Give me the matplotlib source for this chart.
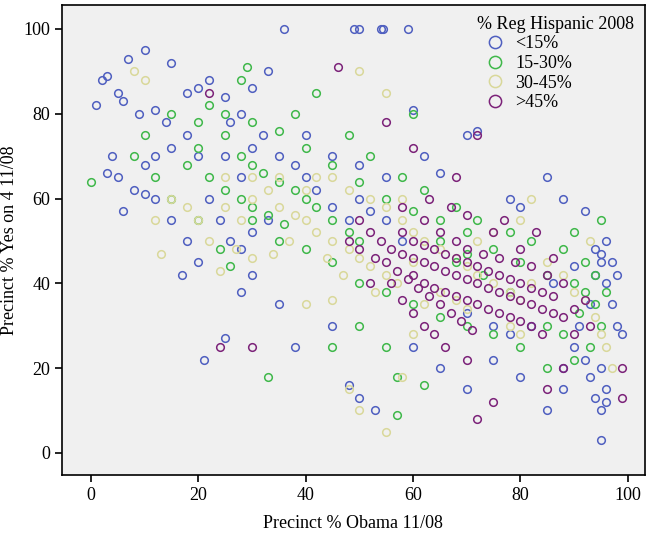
import matplotlib
matplotlib.use("Agg")
import matplotlib.pyplot as plt

labels = ["<15%", "15-30%", "30-45%", ">45%"]
colors = ["#4f5fc0", "#3fb84a", "#d9d89a", "#7c2279"]

blue = [(36,100),(49,100),(50,100),(54,100),(54.5,100),(59,100),(10,95),(7,93),(15,92),(2,88),(3,89),(5,85),(6,83),(1,82),(9,80),(12,81),(14,78),(18,85),(20,86),(22,88),(25,84),(30,86),(33,90),(4,70),(5,65),(3,66),(6,57),(8,62),(10,61),(12,60),(15,55),(18,50),(20,45),(17,42),(21,22),(25,27),(28,38),(30,42),(35,35),(38,25),(45,30),(50,13),(53,10),(48,16),(60,81),(62,70),(65,66),(70,75),(72,76),(78,60),(80,58),(85,65),(88,60),(92,57),(94,48),(95,45),(96,40),(97,35),(98,30),(99,28),(95,20),(96,15),(94,13),(95,10),(95,3),(88,15),(85,10),(80,18),(75,22),(70,15),(65,20),(60,25),(92,22),(91,30),(93,35),(94,42),(95,47),(96,50),(90,44),(86,40),(82,30),(78,28),(75,30),(70,33),(25,70),(28,65),(30,72),(32,75),(35,70),(38,68),(40,65),(42,62),(45,58),(48,55),(50,60),(52,57),(55,55),(58,50),(22,60),(24,55),(26,50),(28,48),(30,52),(33,55),(20,70),(18,75),(15,72),(12,70),(10,68),(26,78),(28,80),(40,75),(45,70),(50,68),(55,65),(88,20),(90,25),(93,18),(96,12),(97,45),(98,42)]
green = [(0,64),(10,75),(15,80),(20,78),(22,82),(25,75),(28,70),(30,68),(32,66),(35,64),(38,62),(40,60),(42,58),(45,55),(48,52),(50,50),(22,65),(25,62),(28,60),(30,58),(33,56),(36,54),(18,68),(20,72),(25,80),(30,78),(35,76),(40,72),(45,68),(50,64),(55,60),(60,57),(65,55),(70,52),(75,48),(80,45),(85,42),(90,40),(92,38),(94,35),(95,30),(93,25),(90,22),(85,20),(80,25),(75,28),(70,30),(65,32),(60,35),(55,38),(50,40),(45,45),(40,48),(35,50),(30,55),(33,18),(45,25),(50,30),(55,25),(57,18),(62,16),(57,9),(28,88),(29,91),(38,80),(42,85),(48,75),(52,70),(58,65),(62,62),(68,58),(72,55),(78,52),(82,50),(88,48),(92,45),(94,42),(96,38),(95,55),(90,52),(85,30),(88,28),(91,33),(78,38),(73,42),(68,45),(20,55),(15,60),(12,65),(8,70),(24,48),(26,44),(60,80),(65,50),(70,47)]
khaki = [(8,90),(10,88),(15,60),(18,58),(20,55),(25,58),(28,55),(30,60),(33,62),(35,58),(38,56),(40,55),(42,52),(45,50),(48,48),(50,46),(52,44),(55,42),(58,55),(60,52),(62,50),(65,48),(68,46),(70,44),(72,42),(75,40),(78,38),(80,36),(82,40),(85,45),(88,42),(90,38),(92,36),(94,32),(95,28),(93,50),(50,90),(55,85),(45,65),(48,62),(52,60),(55,58),(58,60),(40,62),(42,65),(35,65),(30,65),(25,65),(22,50),(13,47),(12,55),(48,15),(50,10),(55,5),(58,18),(60,28),(62,35),(65,38),(68,36),(70,34),(78,30),(80,28),(82,60),(80,55),(75,52),(72,50),(60,45),(57,40),(53,38),(47,42),(44,46),(37,50),(34,47),(30,46),(27,48),(24,43),(40,35),(45,36),(96,25),(97,20)]
purple = [(46,91),(22,85),(24,25),(60,72),(72,75),(55,78),(50,55),(52,52),(54,50),(56,48),(58,47),(60,46),(62,45),(64,44),(66,43),(68,42),(70,41),(72,40),(74,39),(76,38),(78,37),(80,36),(82,35),(84,34),(86,33),(88,32),(90,34),(92,36),(58,52),(60,50),(62,49),(64,48),(66,47),(68,46),(70,45),(72,44),(74,43),(76,42),(78,41),(80,40),(82,39),(84,38),(86,37),(60,42),(62,40),(64,39),(66,38),(68,37),(70,36),(72,35),(74,34),(76,33),(78,32),(80,31),(82,30),(84,28),(55,45),(57,43),(59,41),(61,39),(63,37),(65,35),(67,33),(69,31),(71,29),(62,55),(65,52),(68,50),(70,48),(73,47),(76,46),(79,45),(82,44),(85,42),(88,40),(63,60),(67,58),(70,56),(75,52),(80,48),(48,50),(50,48),(53,46),(56,40),(58,36),(60,33),(62,30),(64,28),(66,25),(70,22),(72,8),(75,12),(85,15),(88,20),(90,28),(93,30),(99,20),(99,13),(30,25),(68,65),(58,58),(52,40),(77,55),(83,52),(86,46)]
groups = [blue, green, khaki, purple]

plt.rcParams['font.family'] = ['Liberation Serif', 'DejaVu Serif']
fig = plt.figure(figsize=(6.58, 5.33), dpi=100)
ax = fig.add_axes([0.094, 0.109, 0.886, 0.882])
ax.set_facecolor("#f0f0f0")
for pts, c, lab in zip(groups, colors, labels):
    xs = [p[0] for p in pts]; ys = [p[1] for p in pts]
    ax.plot(xs, ys, 'o', mfc='none', mec=c, mew=1.1, ms=5.5, label=lab)
ax.set_xlim(-5.4, 103.2)
ax.set_ylim(-5.2, 105.7)
ax.set_xticks(range(0, 101, 20))
ax.set_yticks(range(0, 101, 20))
ax.tick_params(labelsize=13, direction='out', length=5, width=1.2)
for s in ax.spines.values():
    s.set_linewidth(1.2)
ax.set_xlabel("Precinct % Obama 11/08", fontsize=13, labelpad=8)
ax.set_ylabel("Precinct % Yes on 4 11/08", fontsize=13)
leg = ax.legend(title="% Reg Hispanic 2008", loc="upper right", frameon=False,
                fontsize=13, title_fontsize=13, markerscale=1.6, handletextpad=0.1,
                labelspacing=0.15, borderaxespad=0.2)
leg._legend_box.align = "left"
fig.savefig("out.png", dpi=100)
